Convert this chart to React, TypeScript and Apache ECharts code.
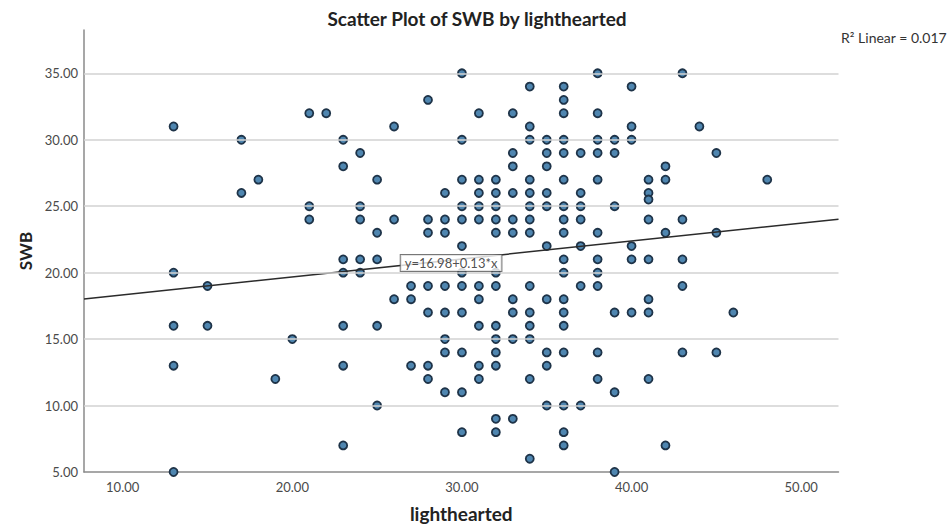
import React, { useEffect, useRef } from "react";
import * as echarts from "echarts";

// lighthearted values (x) and, for each, the SWB values (y) observed at it
const X_LEVELS = [13, 15, 17, 18, 19, 20, 21, 22, 23, 24, 25, 26, 27, 28, 29, 30, 31, 32, 33, 34, 35, 36, 37, 38, 39, 40, 41, 42, 43, 44, 45, 46, 48];
const SWB_BY_X = [
  [31, 20, 16, 13, 5],
  [19, 16],
  [30, 26],
  [27],
  [12],
  [15],
  [32, 25, 24],
  [32],
  [30, 28, 21, 20, 16, 13, 7],
  [29, 25, 24, 21, 20],
  [27, 23, 21, 16, 10],
  [31, 24, 18],
  [19, 18, 13],
  [33, 24, 23, 19, 17, 13, 12],
  [26, 24, 23, 19, 17, 15, 14, 11],
  [35, 30, 27, 25, 24, 22, 20, 19, 17, 14, 11, 8],
  [32, 27, 26, 25, 24, 19, 18, 16, 13, 12],
  [27, 26, 25, 24, 23, 20, 19, 16, 15, 14, 13, 9, 8],
  [32, 29, 28, 26, 24, 23, 18, 17, 15, 9],
  [34, 31, 30, 27, 26, 25, 24, 23, 19, 17, 16, 15, 12, 6],
  [30, 29, 28, 26, 25, 22, 18, 14, 13, 10],
  [34, 33, 32, 30, 29, 27, 25, 24, 23, 21, 20, 18, 17, 16, 14, 10, 8, 7],
  [29, 26, 25, 24, 22, 19, 10],
  [35, 32, 30, 29, 27, 23, 21, 20, 19, 14, 12],
  [30, 29, 25, 17, 11, 5],
  [34, 31, 30, 22, 21, 17],
  [27, 26, 25.5, 24, 21, 18, 17, 12],
  [28, 27, 23, 7],
  [35, 24, 21, 19, 14],
  [31],
  [29, 23, 14],
  [17],
  [27],
];

const X_TICKS = [10, 20, 30, 40, 50];
const Y_TICKS = [5, 10, 15, 20, 25, 30, 35];
const X_RANGE = [7.72, 52.2];
const Y_RANGE = [5, 38.26];

// fitted line y = a + b*x
const FIT_INTERCEPT = 16.98;
const FIT_SLOPE = 0.135;
const EQUATION_TEXT = "y=16.98+0.13*x";
const EQUATION_AT = [29.36, 20.73];
const R2_TEXT = "R\u00B2 Linear = 0.017";

const FONT = "Lato, 'Open Sans', 'DejaVu Sans', sans-serif";

export default function App() {
  const ref = useRef<HTMLDivElement>(null);

  useEffect(() => {
    if (!ref.current) return;
    const chart = echarts.init(ref.current, null, { renderer: "svg" });

    const points: number[][] = [];
    X_LEVELS.forEach((x, i) => {
      SWB_BY_X[i].forEach((y) => points.push([x, y]));
    });
    const fitLine = X_RANGE.map((x) => [x, FIT_INTERCEPT + FIT_SLOPE * x]);

    chart.setOption({
      animation: false,
      backgroundColor: "#ffffff",
      textStyle: { fontFamily: FONT },
      title: {
        text: "Scatter Plot of SWB by lighthearted",
        left: 472,
        textAlign: "center",
        top: 4,
        textStyle: { fontFamily: FONT, fontSize: 19, fontWeight: "bold", color: "#222" },
      },
      graphic: [
        {
          type: "text",
          right: 3,
          top: 30,
          style: { text: R2_TEXT, fontFamily: FONT, fontSize: 14, fill: "#333" },
        },
      ],
      grid: { left: 84, right: 111.5, top: 30, bottom: 58 },
      xAxis: {
        type: "value",
        min: X_RANGE[0],
        max: X_RANGE[1],
        name: "lighthearted",
        nameLocation: "middle",
        nameGap: 32,
        nameTextStyle: { fontFamily: FONT, fontSize: 19, fontWeight: "bold", color: "#222" },
        axisLine: { show: true, lineStyle: { color: "#8a8a8a", width: 1.5 } },
        axisTick: { show: false },
        splitLine: { show: false },
        axisLabel: {
          customValues: X_TICKS,
          formatter: (v: number) => v.toFixed(2),
          margin: 8,
          fontFamily: FONT,
          fontSize: 13,
          color: "#4a4a4a",
        },
      },
      yAxis: {
        type: "value",
        min: Y_RANGE[0],
        max: Y_RANGE[1],
        name: "SWB",
        nameLocation: "middle",
        nameGap: 47,
        nameRotate: 90,
        nameTextStyle: { fontFamily: FONT, fontSize: 17, fontWeight: "bold", color: "#222" },
        axisLine: { show: true, lineStyle: { color: "#8a8a8a", width: 1.5 } },
        axisTick: { show: false },
        splitLine: { show: false },
        axisLabel: {
          customValues: Y_TICKS,
          formatter: (v: number) => v.toFixed(2),
          margin: 6,
          fontFamily: FONT,
          fontSize: 13,
          color: "#4a4a4a",
        },
      },
      series: [
        {
          type: "scatter",
          data: [],
          z: 1,
          silent: true,
          markLine: {
            silent: true,
            symbol: "none",
            label: { show: false },
            lineStyle: { color: "#d2d2d2", type: "solid", width: 1.5 },
            data: Y_TICKS.filter((v) => v > Y_RANGE[0]).map((v) => ({ yAxis: v })),
          },
        },
        {
          type: "scatter",
          data: points,
          symbol: "circle",
          symbolSize: 8,
          z: 3,
          itemStyle: { color: "#4f86b0", borderColor: "#1e3348", borderWidth: 1.8, opacity: 1 },
        },
        {
          type: "line",
          data: fitLine,
          showSymbol: false,
          z: 4,
          lineStyle: { color: "#2b2b2b", width: 1.5 },
        },
        {
          type: "scatter",
          data: [EQUATION_AT],
          symbolSize: 0,
          z: 5,
          silent: true,
          label: {
            show: true,
            position: "inside",
            formatter: EQUATION_TEXT,
            fontFamily: FONT,
            fontSize: 13,
            color: "#222",
            backgroundColor: "#ffffff",
            borderColor: "#555",
            borderWidth: 1,
            padding: [2, 4, 1, 4],
          },
        },
      ],
    });

    return () => {
      chart.dispose();
    };
  }, []);

  return <div ref={ref} style={{ position: "absolute", left: 0, top: 0, width: 950, height: 530 }} />;
}
